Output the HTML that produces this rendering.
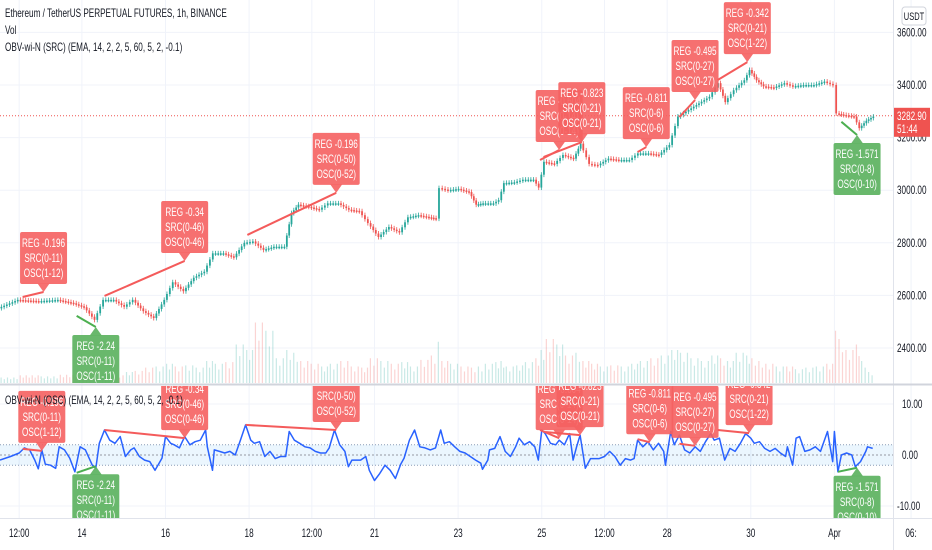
<!DOCTYPE html>
<html><head><meta charset="utf-8"><style>
html,body{margin:0;padding:0;background:#fff;}
svg{display:block;font-family:"Liberation Sans",sans-serif;}
</style></head><body>
<svg id="chart" width="932" height="550" viewBox="0 0 932 550" xmlns="http://www.w3.org/2000/svg">
<defs>
<clipPath id="mainClip"><rect x="0" y="0" width="893" height="383"/></clipPath>
<clipPath id="oscClip"><rect x="0" y="386" width="893" height="132"/></clipPath>
</defs>
<rect x="0" y="0" width="932" height="550" fill="#fff"/>
<g id="grid"></g>
<g id="mainPane" clip-path="url(#mainClip)"></g>
<g id="oscPane" clip-path="url(#oscClip)"></g>
<g id="axes"></g>
<text class="nt" x="5" y="17" font-size="12" fill="#131722">Ethereum / TetherUS PERPETUAL FUTURES, 1h, BINANCE</text>
<text class="nt" x="5" y="34" font-size="12" fill="#131722">Vol</text>
<text class="nt" x="5" y="51" font-size="12" fill="#131722">OBV-wi-N (SRC) (EMA, 14, 2, 2, 5, 60, 5, 2, -0.1)</text>
</svg>
<script>
// ---- data ----
const priceHours = [1,12,24,35,44,50,56,61,67,73,78,84,90,96,101,107,113,119,124,130,136,142,147,153,159,165,169,173,179,185,190,196,202,208,213,219,225,231,236,242,248,252,254,259,265,271,275,279,285,288,291,297,302,308,311,314,320,325,331,335,340,345,351,357,363,368,374,380,386,391,397,403,409,414,418,423,429,432,436,440,446,452,457,463,469,475,480,482,486,492,495,499,503];
const closes = [2552,2583,2578,2583,2570,2555,2507,2583,2583,2557,2583,2540,2514,2583,2650,2616,2667,2690,2760,2760,2745,2800,2805,2773,2785,2785,2913,2945,2937,2926,2950,2950,2926,2920,2875,2822,2860,2840,2897,2905,2897,2892,3008,3000,3005,2993,2945,2950,2950,2962,3027,3030,3040,3040,3010,3108,3100,3134,3120,3177,3100,3095,3120,3115,3115,3140,3140,3134,3172,3280,3305,3330,3355,3407,3335,3380,3418,3457,3418,3395,3390,3407,3395,3400,3400,3413,3400,3292,3286,3280,3236,3264,3280];
const volumes = [12,10,14,12,15,14,25,18,16,14,20,22,28,30,35,30,32,28,40,35,38,70,60,110,95,45,60,55,40,35,30,35,40,30,28,45,40,35,38,30,42,50,75,40,35,30,28,30,35,38,40,30,32,38,45,60,80,70,50,55,40,35,30,32,30,35,40,45,50,60,55,45,40,50,45,40,55,50,45,40,35,30,30,25,28,30,35,95,80,60,70,40,20];
const oscHours = [1,7,12,15,18,21,23,25,27,30,33,35,38,41,44,47,50,54,56,58,61,64,67,70,73,76,78,81,84,87,90,92,94,96,99,101,104,107,110,113,116,119,120,123,124,127,130,133,136,139,142,145,147,150,153,156,159,162,165,167,170,173,176,179,182,185,188,190,193,196,199,201,203,208,211,213,216,219,222,225,228,231,233,236,239,242,245,248,251,254,256,259,262,265,268,271,274,277,278,281,282,285,288,291,294,297,299,302,305,308,310,312,314,317,320,322,325,328,330,332,334,337,340,343,345,348,351,354,357,360,363,365,367,370,373,376,379,382,383,386,388,391,394,397,400,403,406,409,411,414,417,420,423,426,429,432,434,437,440,443,446,449,452,453,456,458,460,463,466,469,472,475,476,479,480,482,484,487,490,492,495,498,499,502];
const oscValues = [-1,-0.3,0.4,1.4,1,-1,-2.7,1,-1.8,-2,-2.6,1.6,1,-0.6,-3.3,1.6,1,-2,-2.6,2.3,4.9,2.9,2.3,3.6,-0.3,1,1.4,-0.3,-1,-1.3,-3,-1.8,-0.6,3.6,2.3,2,1.4,3.6,2,2.6,2.9,4.9,1.6,-3,1,0.7,0.4,0.7,0,2.9,5.9,2.9,2.3,2.6,-0.3,0.7,-0.7,-0.3,-0.3,4.6,2.9,2.3,1.6,1.4,0.7,0.4,0.4,1.4,4.9,2,0.7,-2.3,-1,-1,-0.3,-3,-5,-3.6,-2,-3,-4.6,-1.8,-0.6,2.9,4.9,1.6,1.4,1,1.4,4.9,2.3,2.6,1.6,0.7,0.4,-0.3,-1,-1.6,-2.8,-1,1,1.3,3.6,0.7,-0.3,1.6,3.3,2,2.6,1.6,-1,4.9,4.2,2.3,2,2.9,2,4.2,-1,1.6,3.9,-2.6,-0.7,-0.7,-0.7,-0.3,0.7,-0.3,-2,-0.7,-1,-0.7,2.9,1.6,2.6,1,2.3,0.7,-2,4.6,2,3.9,1,0.4,1.6,0.7,2.6,4.2,2.9,3.3,-1,1.3,0.7,2.3,4.2,3.3,2.3,2.6,1.3,0.7,1.3,0.4,-0.3,1.6,-2,3.3,3.6,0.7,1,1.6,0.7,3.6,4.6,-1.3,4.6,-3.3,0,0.4,0,-2.3,-1.3,0.7,1.6,1.3];
const priceTicks = [3600,3400,3200,3000,2800,2600,2400];
const oscTicks = [10,0,-10];
const timeTickHours = [12,48,96,144,180,216,264,312,348,384,432,480,524];
const timeTickLabels = ["12:00","14","16","18","12:00","21","23","25","12:00","28","30","Apr","06:"];
// divergences: [hour, value]
const divType = ["bear","bull","bear","bear","bear","bear","bear","bear","bear","bull"];
const divPriceStart = [[14,2594],[45,2522],[61,2598],[143,2830],[311,3115],[313,3126],[367,3145],[391,3278],[413,3419],[484,3260]];
const divPriceEnd = [[26,2613],[56,2480],[107,2731],[194,2990],[322,3153],[335,3183],[372,3164],[400,3343],[430,3487],[493,3210]];
const divOscStart = [[14,1.2],[45,-3.5],[61,4.9],[142,5.9],[311,4.9],[314,4.5],[367,3.1],[391,2.2],[413,4.9],[482,-3.3]];
const divOscEnd = [[25,0.8],[56,-2.2],[107,3.3],[194,4.9],[322,3.3],[334,3.9],[374,2.5],[400,1.8],[431,4.3],[493,-2.5]];
const divRegs = ["REG -0.196","REG -2.24","REG -0.34","REG -0.196","REG -0.604","REG -0.823","REG -0.811","REG -0.495","REG -0.342","REG -1.571"];
const divSrcs = ["SRC(0-11)","SRC(0-11)","SRC(0-46)","SRC(0-50)","SRC(0-14)","SRC(0-21)","SRC(0-6)","SRC(0-27)","SRC(0-21)","SRC(0-8)"];
const divOscs = ["OSC(1-12)","OSC(1-11)","OSC(0-46)","OSC(0-52)","OSC(0-14)","OSC(0-21)","OSC(0-6)","OSC(0-27)","OSC(1-22)","OSC(0-10)"];
const lastPrice = 3282.90;

// ---- scales ----
const NS="http://www.w3.org/2000/svg";
const X = h => (h-1)*1.742;
const PY = p => 32.4 + (3600-p)*0.263;
const OY = v => 455 - v*5.1;
const VOLBASE = 383, VOLK = 0.55;
const NARROW = 0.68;
function mk(tag, attrs, parent){const e=document.createElementNS(NS,tag);for(const k in attrs)e.setAttribute(k,attrs[k]);parent.appendChild(e);return e;}
function narrow(el){const w=el.getComputedTextLength();if(w>0){el.setAttribute('textLength',(w*NARROW).toFixed(1));el.setAttribute('lengthAdjust','spacingAndGlyphs');}}
const grid=document.getElementById('grid'), main=document.getElementById('mainPane'), osc=document.getElementById('oscPane'), axes=document.getElementById('axes');

// grid
priceTicks.forEach(p=>{const l=mk('line',{x1:0,x2:893,y1:PY(p),y2:PY(p),stroke:'#f0f3fa','stroke-width':1},grid);

});
[10,-10].forEach(v=>{const l=mk('line',{x1:0,x2:893,y1:OY(v),y2:OY(v),stroke:'#f0f3fa'},grid);

});
timeTickHours.forEach(h=>{const l=mk('line',{x1:X(h),x2:X(h),y1:0,y2:518,stroke:'#f0f3fa'},grid);

});

// volume
for(let i=1;i<closes.length;i++){
  const x0=X(priceHours[i-1]), x1=X(priceHours[i]);
  const up=closes[i]>=closes[i-1];
  const h=volumes[i]*VOLK;
  const col=up?'rgba(38,166,154,0.25)':'rgba(239,83,80,0.25)';
  const n=Math.max(1,Math.round((x1-x0)/3));
  for(let k=0;k<n;k++){
    const r=mk('rect',{x:x0+k*(x1-x0)/n+0.5,y:VOLBASE-h*(k%2?0.7:1),width:1.2,height:h*(k%2?0.7:1),fill:col},main);
    
    
  }
}
// current price line
const cpl=mk('line',{x1:0,x2:893,y1:PY(lastPrice),y2:PY(lastPrice),stroke:'#ef5350','stroke-width':1,'stroke-dasharray':'1,2'},main);


// candles
for(let i=1;i<closes.length;i++){
  const x0=X(priceHours[i-1]), x1=X(priceHours[i]);
  const o=closes[i-1], c=closes[i], up=c>=o;
  const col=up?'#26a69a':'#ef5350';
  const yT=PY(Math.max(o,c)), yB=PY(Math.min(o,c));
  const n=Math.max(1,Math.round((x1-x0)/2.6));
  for(let k=0;k<n;k++){
    const f0=k/n, f1=(k+1)/n;
    const ya=yB+(yT-yB)*f0, yb=yB+(yT-yB)*f1;
    const top=up?yb:ya, bot=up?ya:yb;
    const top2=Math.min(yT,yB)+(up?(yB-yT)*(1-f1):(yB-yT)*f0);
    const cx=x0+(k+0.5)*(x1-x0)/n;
    const bt=Math.min(top2,top2+ (yB-yT)/n);
    const w=mk('line',{x1:cx,x2:cx,y1:bt-2.5,y2:bt+(yB-yT)/n+2.5,stroke:col,'stroke-width':0.8},main);
    
    
    const b=mk('rect',{x:cx-0.9,y:bt,width:1.8,height:Math.max(1.5,(yB-yT)/n),fill:col},main);
    
    
  }
}

// osc band
const band=mk('rect',{x:0,y:OY(2),width:893,height:OY(-2)-OY(2),fill:'rgba(33,150,243,0.09)'},osc);


[2,-2].forEach(v=>{const l=mk('line',{x1:0,x2:893,y1:OY(v),y2:OY(v),stroke:'#8a9bb5','stroke-dasharray':'1,2'},osc);

});
const zl=mk('line',{x1:0,x2:893,y1:OY(0),y2:OY(0),stroke:'#9598a1','stroke-dasharray':'2,2'},osc);


let d='';oscHours.forEach((h,i)=>{d+=(i?'L':'M')+X(h).toFixed(1)+','+OY(oscValues[i]).toFixed(1);});
const ol=mk('path',{d:d,fill:'none',stroke:'#2962ff','stroke-width':1.5,'stroke-linejoin':'round'},osc);



// divergence labels
function drawDiv(parent, s, e, i, Y, pane){
  const bear=divType[i]==='bear';
  const col=bear?'#f45b5b':'#4caf50', box=bear?'rgba(245,96,96,0.9)':'rgba(92,178,96,0.92)';
  const ln=mk('line',{x1:X(s[0]),y1:Y(s[1]),x2:X(e[0]),y2:Y(e[1]),stroke:col,'stroke-width':2},parent);
  
  
  const px=X(e[0]), py=Y(e[1]);
  const g=mk('g',{},parent);
  
  
  const W=47,H=52;
  let by, tri;
  if(bear){by=py-8-H;tri=`${px-6},${py-8.5} ${px+6},${py-8.5} ${px},${py}`;}
  else{by=py+8;tri=`${px-6},${py+8.5} ${px+6},${py+8.5} ${px},${py}`;}
  mk('rect',{x:px-W/2,y:by,width:W,height:H,rx:2,fill:box},g);
  mk('polygon',{points:tri,fill:box},g);
  [divRegs[i],divSrcs[i],divOscs[i]].forEach((t,k)=>{
    const tx=mk('text',{x:px,y:by+15+k*15,'text-anchor':'middle','font-size':12,fill:'#fff'},g);
    tx.textContent=t;
    narrow(tx);
  });
}
divType.forEach((t,i)=>drawDiv(main,divPriceStart[i],divPriceEnd[i],i,PY,'price'));
divType.forEach((t,i)=>drawDiv(osc,divOscStart[i],divOscEnd[i],i,OY,'osc'));
const ot=mk('text',{x:5,y:404,'font-size':12,fill:'#131722'},osc);


ot.textContent='OBV-wi-N (OSC) (EMA, 14, 2, 2, 5, 60, 5, 2, -0.1)';
narrow(ot);
document.querySelectorAll('text.nt').forEach(narrow);

// axes
mk('line',{x1:893.5,x2:893.5,y1:0,y2:550,stroke:'#e0e3eb'},axes);
mk('line',{x1:0,x2:932,y1:384.5,y2:384.5,stroke:'#d1d4dc','stroke-width':2},axes);
mk('line',{x1:0,x2:932,y1:518.5,y2:518.5,stroke:'#e0e3eb'},axes);
priceTicks.forEach(p=>{const t=mk('text',{x:897,y:PY(p)+4,'font-size':12,fill:'#131722'},axes);


t.textContent=p.toFixed(2);narrow(t);});
oscTicks.forEach(v=>{const t=mk('text',{x:v<0?897:902,y:OY(v)+4,'font-size':12,fill:'#131722'},axes);


t.textContent=v.toFixed(2);narrow(t);});
timeTickHours.forEach((h,i)=>{const t=mk('text',{x:X(h),y:537,'text-anchor':'middle','font-size':12,fill:'#131722'},axes);


t.textContent=timeTickLabels[i];narrow(t);});
const ub=mk('rect',{x:902,y:7,width:24,height:18,rx:3,fill:'#fff',stroke:'#d1d4dc'},axes);


const ut=mk('text',{x:914,y:20,'text-anchor':'middle','font-size':11,fill:'#131722'},axes);
ut.textContent='USDT';narrow(ut);
const pb=mk('rect',{x:894,y:PY(lastPrice)-8,width:36,height:29,fill:'#ef5350'},axes);


const pt=mk('text',{x:897,y:PY(lastPrice)+4,'font-size':12,fill:'#fff'},axes);pt.textContent=lastPrice.toFixed(2);narrow(pt);
const ct=mk('text',{x:897,y:PY(lastPrice)+17,'font-size':12,fill:'#fff'},axes);ct.textContent='51:44';narrow(ct);
</script>
</body></html>
